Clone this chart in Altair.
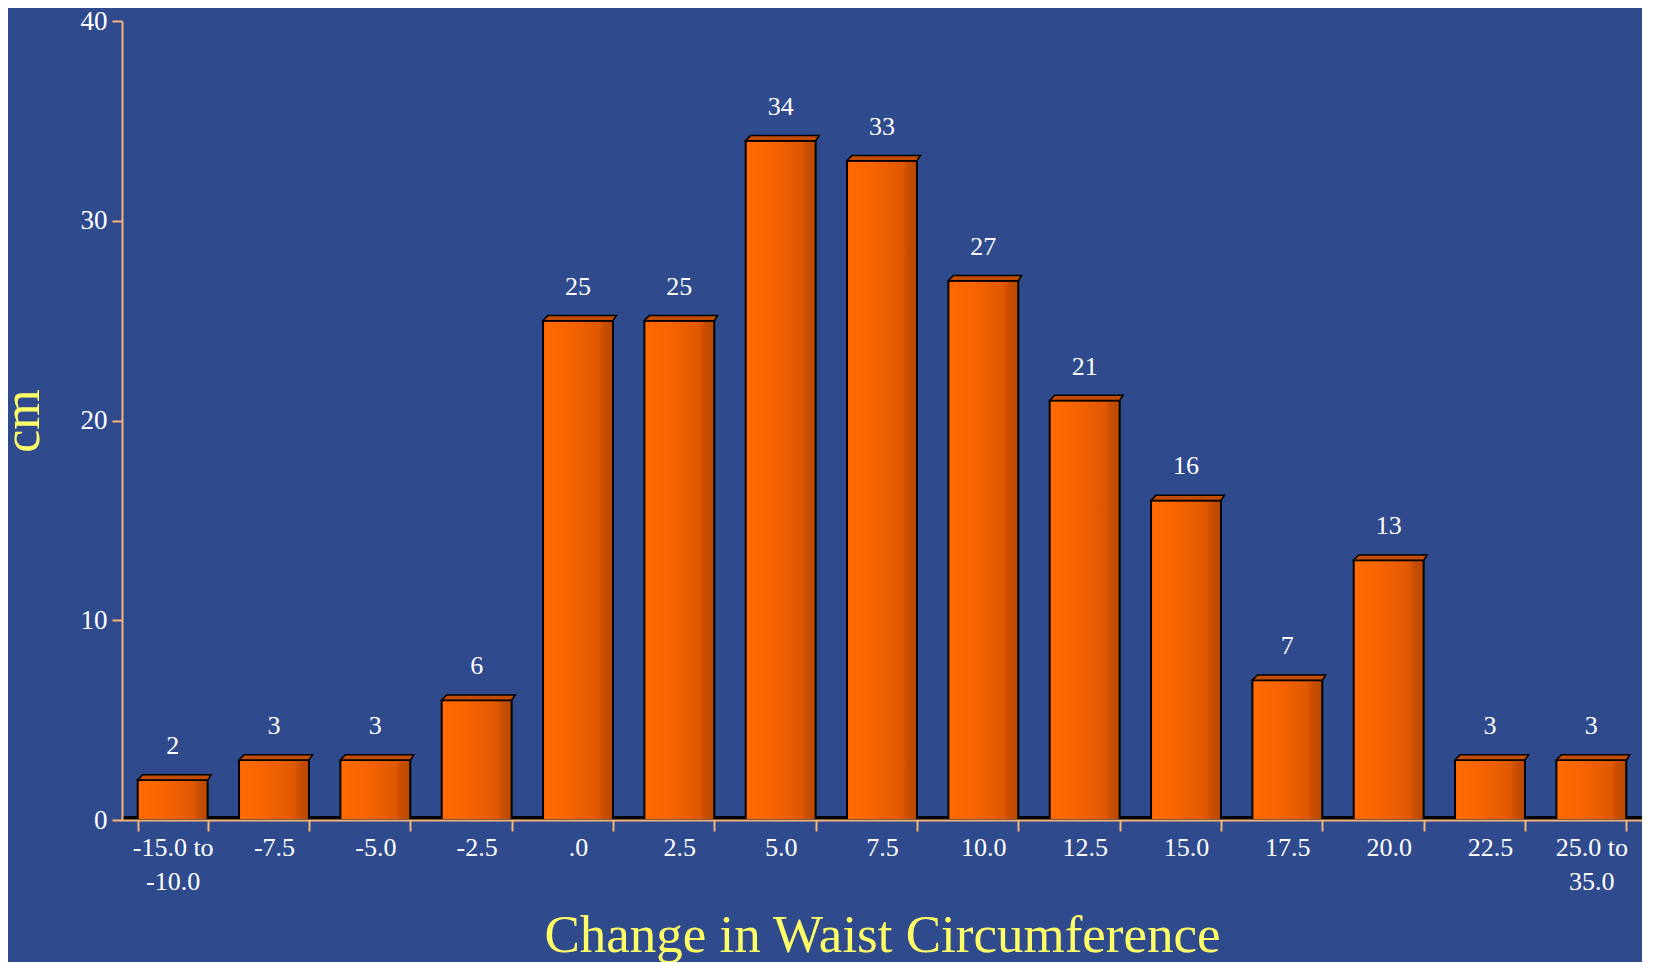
import altair as alt
import pandas as pd

# ---- data ----
categories = ["-15.0 to|-10.0", "-7.5", "-5.0", "-2.5", ".0", "2.5", "5.0", "7.5",
              "10.0", "12.5", "15.0", "17.5", "20.0", "22.5", "25.0 to|35.0"]
counts = [2, 3, 3, 6, 25, 25, 34, 33, 27, 21, 16, 7, 13, 3, 3]
y_ticks = [0, 10, 20, 30, 40]

df = pd.DataFrame({"cat": categories, "n": counts})

# ---- styling ----
W, H = 1520, 799
PAD_INNER = 0.31
bar_w = W / len(categories) * (1 - PAD_INNER)
FONT = "Liberation Serif"
BG = "#2F4B8D"
AXIS_C = "#F5B57A"
YELLOW = "#FFFF66"

x_enc = alt.X(
    "cat:N", sort=categories, title="Change in Waist Circumference",
    scale=alt.Scale(paddingInner=PAD_INNER, paddingOuter=PAD_INNER / 2),
    axis=alt.Axis(
        labelAngle=0, labelExpr="split(datum.label, '|')", tickBand="extent",
        tickSize=11, tickWidth=2, tickColor=AXIS_C, domainColor=AXIS_C, domainWidth=2,
        labelColor="white", labelFont=FONT, labelFontSize=26, labelLineHeight=34,
        labelBaseline="top", labelPadding=3,
        titleColor=YELLOW, titleFont=FONT, titleFontSize=53, titleFontWeight="normal",
        titleY=131, titleBaseline="alphabetic", zindex=1,
    ),
)
y_enc = alt.Y(
    "n:Q", title="cm",
    scale=alt.Scale(domain=[0, 40], nice=False),
    axis=alt.Axis(
        values=y_ticks, grid=False, tickSize=10, tickWidth=2, tickColor=AXIS_C,
        domainColor=AXIS_C, domainWidth=2, labelPadding=5,
        labelColor="white", labelFont=FONT, labelFontSize=27,
        titleColor=YELLOW, titleFont=FONT, titleFontSize=52, titleFontWeight="normal",
        titleAngle=270, titleX=-84, titleBaseline="alphabetic", zindex=1,
    ),
)

base = alt.Chart(df).encode(x=x_enc, y=y_enc)

floor = alt.Chart(df).mark_rule(color="black", strokeWidth=3, yOffset=-2).encode(
    y=alt.datum(0)
)

grad = alt.Gradient(
    gradient="linear", x1=0, x2=1, y1=0, y2=0,
    stops=[
        alt.GradientStop(offset=0, color="#FF6A00"),
        alt.GradientStop(offset=0.35, color="#F86400"),
        alt.GradientStop(offset=0.8, color="#DE5800"),
        alt.GradientStop(offset=0.86, color="#C94E00"),
        alt.GradientStop(offset=1, color="#BC4800"),
    ],
)
bars = base.mark_bar(fill=grad, stroke="black", strokeWidth=2)

top_path = "M-1,0L-0.86,-0.15L1.1,-0.15L1,0Z"
tops = base.mark_point(
    shape=top_path, size=bar_w ** 2, filled=True, fill="#C44C00",
    stroke="black", strokeWidth=1.5, opacity=1,
)

labels = base.mark_text(
    dy=-34, baseline="middle", font=FONT, fontSize=26, color="white"
).encode(text="n:Q")

chart = (
    alt.layer(floor, bars, tops, labels)
    .properties(
        width=W, height=H,
        autosize=alt.AutoSizeParams(type="none"),
        padding={"left": 114, "top": 13, "right": 0, "bottom": 142},
        background=BG,
    )
    .configure_view(stroke=None)
)

chart.save("out.html", embed_options={"renderer": "svg", "actions": False})
